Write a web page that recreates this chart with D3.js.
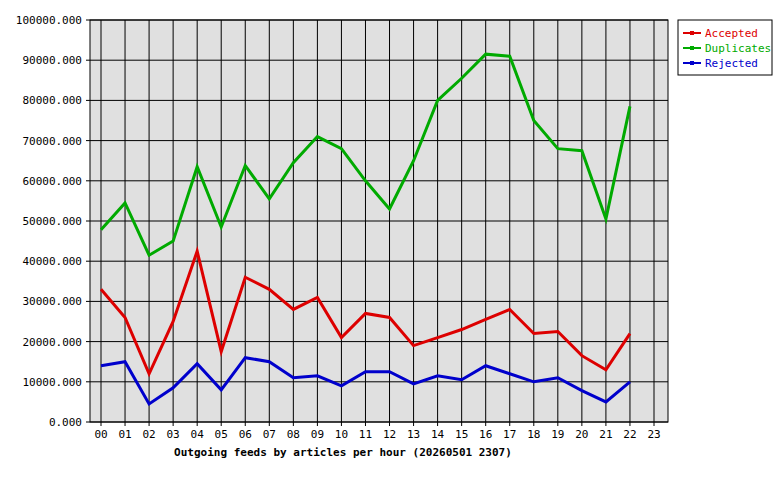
<!DOCTYPE html>
<html><head><meta charset="utf-8">
<script src="https://cdn.jsdelivr.net/npm/d3@7"></script>
<style>body{margin:0;background:#fff}text{font-family:"DejaVu Sans Mono",monospace;font-size:11px}</style>
</head><body><svg id="c" width="780" height="480"></svg>
<script>
const hours=["00","01","02","03","04","05","06","07","08","09","10","11","12","13","14","15","16","17","18","19","20","21","22","23"];
const accepted=[33000,26000,12000,25000,42500,17500,36000,33000,28000,31000,21000,27000,26000,19000,21000,23000,25500,28000,22000,22500,16500,13000,22000];
const duplicates=[47800,54500,41500,45000,63500,48500,63800,55500,64500,71000,68000,60000,53000,65000,80000,85500,91500,91000,75000,68000,67500,50500,78500];
const rejected=[14000,15000,4500,8500,14500,8000,16000,15000,11000,11500,9000,12500,12500,9500,11500,10500,14000,12000,10000,11000,7800,5000,10000];
const yTicks=[0,10000,20000,30000,40000,50000,60000,70000,80000,90000,100000];
const series=[{name:"Accepted",color:"#dd0000",data:accepted},{name:"Duplicates",color:"#00aa00",data:duplicates},{name:"Rejected",color:"#0000cc",data:rejected}];
const svg=d3.select("#c");
const L=90,R=668,T=20,B=422;
const x=d3.scalePoint().domain(hours).range([101,654]);
const y=d3.scaleLinear().domain([0,100000]).range([B,T]);
svg.append("rect").attr("x",L).attr("y",T).attr("width",R-L).attr("height",B-T).attr("fill","#e0e0e0").attr("stroke","#000");
yTicks.forEach(t=>{svg.append("line").attr("x1",L-4).attr("x2",R).attr("y1",y(t)).attr("y2",y(t)).attr("stroke","#000");
 svg.append("text").attr("x",L-8).attr("y",y(t)+4).attr("text-anchor","end").text(t.toFixed(3));});
hours.forEach(h=>{svg.append("line").attr("x1",x(h)).attr("x2",x(h)).attr("y1",T).attr("y2",B+4).attr("stroke","#000");
 svg.append("text").attr("x",x(h)).attr("y",B+16).attr("text-anchor","middle").text(h);});
const line=d3.line().x((d,i)=>x(hours[i])).y(d=>y(d));
series.forEach(s=>svg.append("path").attr("d",line(s.data)).attr("fill","none").attr("stroke",s.color).attr("stroke-width",3));
svg.append("text").attr("x",343).attr("y",456).attr("text-anchor","middle").attr("font-weight","bold").text("Outgoing feeds by articles per hour (20260501 2307)");
svg.append("rect").attr("x",678).attr("y",20).attr("width",94).attr("height",55).attr("fill","#fff").attr("stroke","#000");
series.forEach((s,i)=>{const yy=33+i*15;
 svg.append("line").attr("x1",683).attr("x2",701).attr("y1",yy).attr("y2",yy).attr("stroke",s.color).attr("stroke-width",2);
 svg.append("rect").attr("x",690).attr("y",yy-2).attr("width",4).attr("height",4).attr("fill",s.color);
 svg.append("text").attr("x",705).attr("y",yy+4).attr("fill",s.color).text(s.name);});
</script></body></html>
